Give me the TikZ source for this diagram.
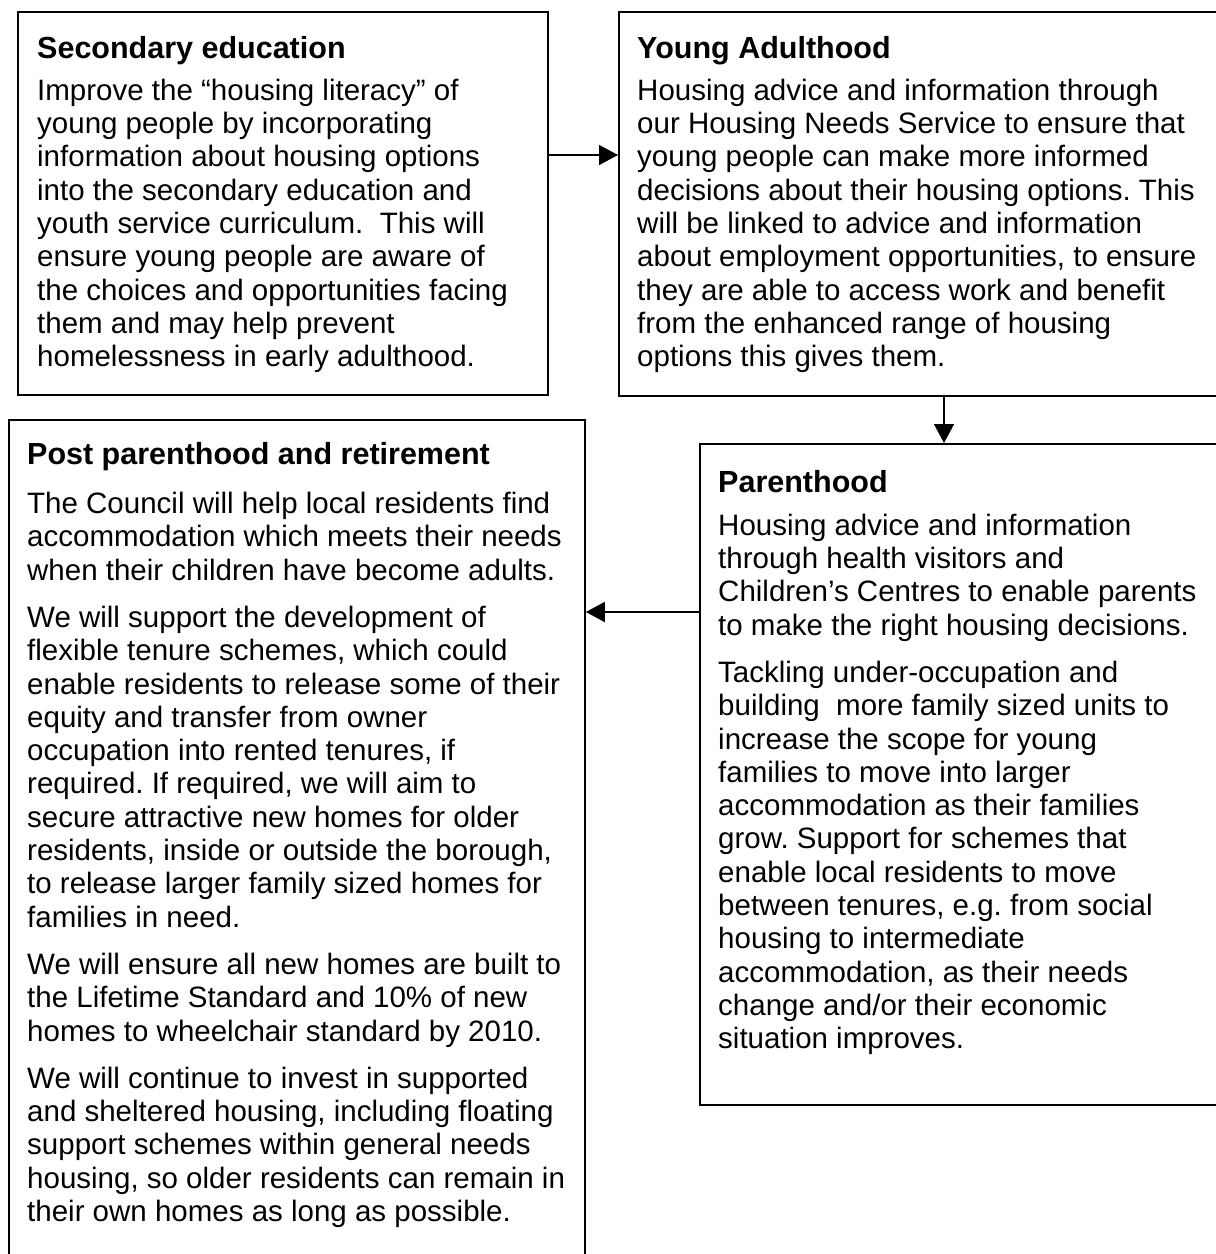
\documentclass[tikz,border=0pt]{standalone}
\usepackage{fontspec}
\setmainfont{Liberation Sans}
\usetikzlibrary{arrows.meta}
\frenchspacing
\newcommand{\boxtitle}[1]{{\fontsize{30.5pt}{33.3pt}\selectfont\bfseries #1}}
\begin{document}
\begin{tikzpicture}[x=1pt,y=-1pt,
  box/.style={draw=black, line width=1.8pt, inner sep=0pt, anchor=north west},
  txt/.style={anchor=north west, inner sep=0pt, align=left, font=\fontsize{29.5pt}{33.3pt}\selectfont\frenchspacing},
  arr/.style={line width=1.6pt, -{Triangle[length=19pt,width=20pt]}}]
\useasboundingbox (0,0) rectangle (1216,1254);
\clip (0,0) rectangle (1216,1254);
\fill[white] (0,0) rectangle (1216,1254);
% boxes
\node[box, minimum width=530pt, minimum height=383pt] (sec) at (17,11) {};
\node[box, minimum width=607pt, minimum height=384pt] (young) at (618,11) {};
\node[box, minimum width=576pt, minimum height=860pt] (post) at (8,419) {};
\node[box, minimum width=526pt, minimum height=661pt] (parent) at (699,443) {};
% texts
\node[txt] (sect) at (37,33) {\rule{0pt}{25pt}\boxtitle{Secondary education}\\[8.7pt]
Improve the “housing literacy” of\\
young people by incorporating\\
information about housing options\\
into the secondary education and\\
youth service curriculum.\ \ This will\\
ensure young people are aware of\\
the choices and opportunities facing\\
them and may help prevent\\
homelessness in early adulthood.};
\node[txt] (youngt) at (637,33) {\rule{0pt}{25pt}\boxtitle{Young Adulthood}\\[8.7pt]
Housing advice and information through\\
our Housing Needs Service to ensure that\\
young people can make more informed\\
decisions about their housing options. This\\
will be linked to advice and information\\
about employment opportunities, to ensure\\
they are able to access work and benefit\\
from the enhanced range of housing\\
options this gives them.};
\node[txt] (postt) at (27,439) {\rule{0pt}{25pt}\boxtitle{Post parenthood and retirement}\\[16pt]
The Council will help local residents find\\
accommodation which meets their needs\\
when their children have become adults.\\[14pt]
We will support the development of\\
flexible tenure schemes, which could\\
enable residents to release some of their\\
equity and transfer from owner\\
occupation into rented tenures, if\\
required. If required, we will aim to\\
secure attractive new homes for older\\
residents, inside or outside the borough,\\
to release larger family sized homes for\\
families in need.\\[14pt]
We will ensure all new homes are built to\\
the Lifetime Standard and 10\% of new\\
homes to wheelchair standard by 2010.\\[14pt]
We will continue to invest in supported\\
and sheltered housing, including floating\\
support schemes within general needs\\
housing, so older residents can remain in\\
their own homes as long as possible.};
\node[txt] (parentt) at (718,467) {\rule{0pt}{25pt}\boxtitle{Parenthood}\\[9.7pt]
Housing advice and information\\
through health visitors and\\
Children’s Centres to enable parents\\
to make the right housing decisions.\\[14pt]
Tackling under-occupation and\\
building\ \ more family sized units to\\
increase the scope for young\\
families to move into larger\\
accommodation as their families\\
grow. Support for schemes that\\
enable local residents to move\\
between tenures, e.g. from social\\
housing to intermediate\\
accommodation, as their needs\\
change and/or their economic\\
situation improves.};
% connectors
\coordinate (a1) at (0,155);
\coordinate (a2) at (944,0);
\coordinate (a3) at (0,612);
\draw[arr] (sec.east |- a1) -- (young.west |- a1);
\draw[arr] (young.south -| a2) -- (parent.north -| a2);
\draw[arr] (parent.west |- a3) -- (post.east |- a3);
\end{tikzpicture}
\end{document}
